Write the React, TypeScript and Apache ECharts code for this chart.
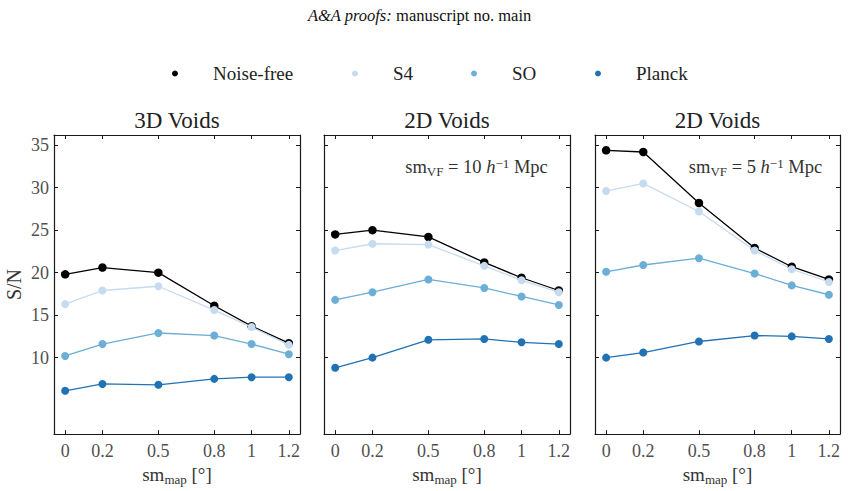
import React, { useEffect, useRef } from "react";
import * as echarts from "echarts";

const xValues = [0, 0.2, 0.5, 0.8, 1, 1.2];
const yTicks = [10, 15, 20, 25, 30, 35];
const panelTitles = ["3D Voids", "2D Voids", "2D Voids"];
const seriesNames = ["Noise-free", "S4", "SO", "Planck"];
const seriesColors = ["#000000", "#c6dbef", "#6baed6", "#2171b5"];

// 3D voids
const noiseFree3D = [19.8, 20.6, 20.0, 16.1, 13.7, 11.7];
const s4_3D = [16.3, 17.9, 18.4, 15.6, 13.6, 11.5];
const so3D = [10.2, 11.6, 12.9, 12.6, 11.6, 10.4];
const planck3D = [6.1, 6.9, 6.8, 7.5, 7.7, 7.7];
// 2D voids, sm_VF = 10
const noiseFree2D10 = [24.5, 25.0, 24.2, 21.2, 19.4, 17.9];
const s4_2D10 = [22.6, 23.4, 23.3, 20.8, 19.1, 17.7];
const so2D10 = [16.8, 17.7, 19.2, 18.2, 17.2, 16.2];
const planck2D10 = [8.8, 10.0, 12.1, 12.2, 11.8, 11.6];
// 2D voids, sm_VF = 5
const noiseFree2D5 = [34.4, 34.2, 28.2, 22.9, 20.7, 19.2];
const s4_2D5 = [29.6, 30.5, 27.2, 22.6, 20.4, 18.9];
const so2D5 = [20.1, 20.9, 21.7, 19.9, 18.5, 17.4];
const planck2D5 = [10.0, 10.6, 11.9, 12.6, 12.5, 12.2];

const panelData = [
  [noiseFree3D, s4_3D, so3D, planck3D],
  [noiseFree2D10, s4_2D10, so2D10, planck2D10],
  [noiseFree2D5, s4_2D5, so2D5, planck2D5],
];
const annotations = ["", "10", "5"];

const FONT = "Liberation Serif";
const grids = [
  { left: 54, top: 135, width: 246, height: 301 },
  { left: 324, top: 135, width: 246, height: 301 },
  { left: 595, top: 135, width: 245, height: 301 },
];
const legendMarkerX = [175, 355, 474, 598];

export default function App() {
  const ref = useRef<HTMLDivElement>(null);
  useEffect(() => {
    if (!ref.current) return;
    const chart = echarts.init(ref.current, null, { renderer: "svg" });
    const lineCol = "#1a1a1a";
    const tickCol = "#505050";
    const xAxes: any[] = [];
    const yAxes: any[] = [];
    const series: any[] = [];
    grids.forEach((g, i) => {
      const common = {
        gridIndex: i,
        type: "value",
        splitLine: { show: false },
        axisLine: { show: true, onZero: false, lineStyle: { color: lineCol, width: 1.2 } },
        axisTick: { show: true, inside: true, length: 4, lineStyle: { color: lineCol, width: 1 } },
      };
      const xc = {
        ...common,
        min: -0.06,
        max: 1.26,
        axisTick: { ...common.axisTick, customValues: xValues },
      };
      xAxes.push({
        ...xc,
        position: "bottom",
        axisLabel: {
          customValues: xValues,
          margin: 8,
          color: tickCol,
          fontFamily: FONT,
          fontSize: 18,
          formatter: (v: number) => String(v),
        },
        name: "{a|sm}{b|map}{a| [°]}",
        nameLocation: "middle",
        nameGap: 23,
        nameTextStyle: {
          rich: {
            a: { fontFamily: FONT, fontSize: 19, color: "#333" },
            b: { fontFamily: FONT, fontSize: 13, color: "#333", padding: [10, 0, 0, 0] },
          },
        },
      });
      xAxes.push({ ...xc, position: "top", axisLabel: { show: false } });
      const yc = {
        ...common,
        min: 1,
        max: 36.2,
        axisTick: { ...common.axisTick, customValues: yTicks },
      };
      yAxes.push({
        ...yc,
        position: "left",
        axisLabel: {
          show: i === 0,
          customValues: yTicks,
          margin: 5,
          color: tickCol,
          fontFamily: FONT,
          fontSize: 18,
        },
        name: i === 0 ? "S/N" : "",
        nameLocation: "middle",
        nameGap: 30,
        nameTextStyle: { fontFamily: FONT, fontSize: 20, color: "#333" },
      });
      yAxes.push({ ...yc, position: "right", axisLabel: { show: false } });
      panelData[i].forEach((vals, k) => {
        series.push({
          type: "line",
          name: seriesNames[k],
          xAxisIndex: i * 2,
          yAxisIndex: i * 2,
          data: xValues.map((x, j) => [x, vals[j]]),
          symbol: "circle",
          symbolSize: k === 0 ? 8.5 : 8,
          showSymbol: true,
          lineStyle: { color: seriesColors[k], width: 1.3 },
          itemStyle: { color: seriesColors[k] },
          z: 2 + k,
        });
      });
    });

    const legends = seriesNames.map((n, k) => ({
      data: [n],
      left: legendMarkerX[k] - 3,
      top: 64,
      padding: 0,
      icon: "circle",
      itemWidth: 6,
      itemHeight: 6,
      textStyle: { fontFamily: FONT, fontSize: 19, color: "#222", padding: [0, 0, 0, 30] },
    }));

    const titles = grids.map((g, i) => ({
      text: panelTitles[i],
      left: g.left + g.width / 2,
      top: 108,
      padding: 0,
      textAlign: "center",
      textStyle: { fontFamily: FONT, fontSize: 23, fontWeight: "normal", color: "#222", lineHeight: 24 },
    }));

    const annoRich = {
      a: { fontFamily: FONT, fontSize: 18.5, fill: "#333" },
      i: { fontFamily: FONT, fontSize: 18.5, fontStyle: "italic", fill: "#333" },
      s: { fontFamily: FONT, fontSize: 13, fill: "#333", padding: [8, 0, 0, 0] },
      p: { fontFamily: FONT, fontSize: 13, fill: "#333", padding: [0, 0, 8, 0] },
    };
    const graphics: any[] = [
      {
        type: "text",
        x: 419.5,
        y: 15,
        style: {
          text: "{i|A&A proofs:}{n| manuscript no. main}",
          align: "center",
          verticalAlign: "middle",
          rich: {
            i: { fontFamily: FONT, fontSize: 16.5, fontStyle: "italic", fill: "#111" },
            n: { fontFamily: FONT, fontSize: 16.5, fill: "#111" },
          },
        },
      },
    ];
    const annoX = [0, 476.5, 755.5];
    [1, 2].forEach((i) => {
      graphics.push({
        type: "text",
        x: annoX[i],
        y: 167,
        style: {
          text: `{a|sm}{s|VF}{a| = ${annotations[i]} }{i|h}{p|−1}{a| Mpc}`,
          align: "center",
          verticalAlign: "middle",
          rich: annoRich,
        },
      });
    });

    chart.setOption({
      animation: false,
      backgroundColor: "#ffffff",
      textStyle: { fontFamily: FONT },
      title: titles,
      legend: legends,
      grid: grids.map((g) => ({ ...g, containLabel: false })),
      xAxis: xAxes,
      yAxis: yAxes,
      series,
      graphic: graphics,
    });
    return () => chart.dispose();
  }, []);
  return (
    <div
      ref={ref}
      style={{ position: "absolute", left: 0, top: 0, width: 848, height: 491 }}
    />
  );
}
